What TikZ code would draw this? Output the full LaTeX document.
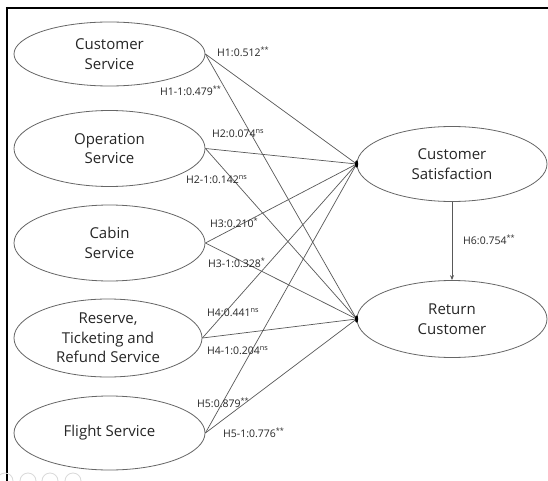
\documentclass[tikz,border=0pt]{standalone}
\usepackage{fontspec}
\setmainfont{Open Sans}
\usetikzlibrary{shapes.geometric,arrows.meta}
\begin{document}
\begin{tikzpicture}[x=1pt,y=-1pt,
  var/.style={draw=black!60, line width=0.8pt, ellipse, inner sep=0pt, align=center,
    font=\fontsize{15}{19.5}\selectfont, text=black!85, minimum width=191pt, minimum height=76pt},
  conn/.style={draw=black!65, line width=0.7pt},
  lab/.style={anchor=west, inner sep=0pt, font=\fontsize{10.5}{12}\selectfont, text=black!85},
  sup/.style={}]
\useasboundingbox (0,0) rectangle (548,481);
\fill[white] (0,0) rectangle (548,481);
% frame
\draw[line width=2.4pt] (5.8,8) -- (548,8);
\draw[line width=2.4pt] (7,6.8) -- (7,481);
% faint icons
\foreach \cx in {28,50,73}{\draw[black!15, line width=0.8pt] (\cx,481) circle (8);}
\draw[black!15, line width=0.8pt] (5,481) circle (8);
% left variables
\node[var, minimum height=64pt] (cs) at (109.5,54) {Customer\\Service};
\node[var] (os) at (109.5,148.5) {Operation\\Service};
\node[var] (cab) at (109.5,243) {Cabin\\Service};
\node[var, minimum width=188pt, minimum height=78pt] (rts) at (108,338) {Reserve,\\Ticketing and\\Refund Service};
\node[var, minimum height=74pt] (fs) at (109.5,433) {Flight Service};
% right variables
\node[var, minimum width=190pt, minimum height=75pt] (sat) at (452,164) {Customer\\Satisfaction};
\node[var, minimum width=190pt, minimum height=77pt] (ret) at (452,319) {Return\\Customer};
\coordinate (d1) at (sat.west);
\coordinate (d2) at (ret.west);
% paths
\foreach \s in {cs,os,cab,rts,fs}{
  \draw[conn] (\s.east) -- (d1);
  \draw[conn] (\s.east) -- (d2);
}
\fill (d1) ellipse (1.6 and 3.6);
\fill (d2) ellipse (1.6 and 3.6);
\draw[conn, -{Stealth[length=5pt,width=4pt]}] (sat.south) -- (ret.north);
% labels
\node[lab] (l1) at (217,52) {H1:0.512\textsuperscript{**}};
\node[lab] (l11) at (160,91) {H1-1:0.479\textsuperscript{**}};
\node[lab] (l2) at (212,134) {H2:0.074\textsuperscript{ns}};
\node[lab] (l21) at (186,180) {H2-1:0.142\textsuperscript{ns}};
\node[lab] (l3) at (210,223) {H3:0.210\textsuperscript{*}};
\node[lab] (l31) at (208,263) {H3-1:0.328\textsuperscript{*}};
\node[lab] (l4) at (207,313) {H4:0.441\textsuperscript{ns}};
\node[lab] (l41) at (207,351) {H4-1:0.204\textsuperscript{ns}};
\node[lab] (l5) at (197,403) {H5:0.879\textsuperscript{**}};
\node[lab] (l51) at (223,433) {H5-1:0.776\textsuperscript{**}};
\node[lab] (l6) at (463,240) {H6:0.754\textsuperscript{**}};
\end{tikzpicture}
\end{document}
